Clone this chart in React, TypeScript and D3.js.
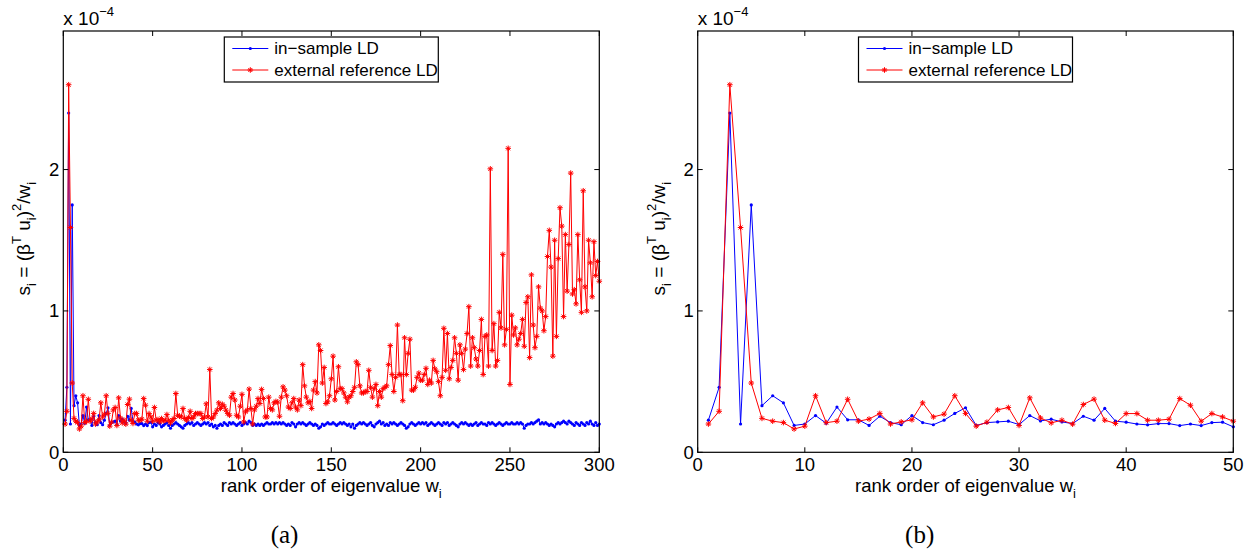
import React from "react";
import * as d3 from "d3";

// values in units of 1e-4, rank 1..300
const inSampleLD = [
  0.227, 0.46, 2.40, 0.20, 1.75, 0.33, 0.40, 0.35, 0.19, 0.20,
  0.26, 0.205, 0.32, 0.23, 0.23, 0.19, 0.255, 0.21, 0.195, 0.26,
  0.21, 0.195, 0.227, 0.275, 0.315, 0.19, 0.21, 0.215, 0.22, 0.196,
  0.26, 0.222, 0.234, 0.215, 0.203, 0.255, 0.227, 0.31, 0.22, 0.213,
  0.20, 0.194, 0.203, 0.203, 0.189, 0.20, 0.189, 0.21, 0.213, 0.18,
  0.20, 0.19, 0.21, 0.20, 0.18, 0.19, 0.20, 0.21, 0.19, 0.17,
  0.19, 0.20, 0.21, 0.20, 0.19, 0.18, 0.17, 0.19, 0.20, 0.21,
  0.20, 0.21, 0.19, 0.20, 0.21, 0.20, 0.19, 0.20, 0.21, 0.20,
  0.21, 0.19, 0.20, 0.18, 0.19, 0.17, 0.19, 0.20, 0.19, 0.21,
  0.20, 0.19, 0.21, 0.20, 0.21, 0.20, 0.19, 0.20, 0.21, 0.19,
  0.20, 0.21, 0.20, 0.22, 0.21, 0.19, 0.20, 0.19, 0.20, 0.19,
  0.20, 0.19, 0.20, 0.21, 0.20, 0.20, 0.21, 0.20, 0.21, 0.20,
  0.21, 0.20, 0.21, 0.20, 0.19, 0.20, 0.19, 0.21, 0.20, 0.18,
  0.20, 0.21, 0.20, 0.21, 0.20, 0.19, 0.20, 0.21, 0.20, 0.19,
  0.20, 0.19, 0.17, 0.18, 0.20, 0.19, 0.20, 0.21, 0.20, 0.20,
  0.21, 0.20, 0.19, 0.20, 0.21, 0.20, 0.21, 0.20, 0.19, 0.20,
  0.18, 0.20, 0.17, 0.19, 0.20, 0.21, 0.20, 0.21, 0.20, 0.19,
  0.20, 0.21, 0.19, 0.18, 0.20, 0.21, 0.22, 0.20, 0.21, 0.19,
  0.20, 0.19, 0.21, 0.20, 0.21, 0.20, 0.19, 0.20, 0.21, 0.20,
  0.19, 0.17, 0.18, 0.20, 0.21, 0.20, 0.19, 0.20, 0.21, 0.20,
  0.21, 0.20, 0.21, 0.19, 0.20, 0.21, 0.20, 0.19, 0.20, 0.21,
  0.20, 0.19, 0.21, 0.20, 0.21, 0.19, 0.20, 0.21, 0.20, 0.19,
  0.18, 0.20, 0.21, 0.20, 0.21, 0.20, 0.19, 0.20, 0.19, 0.20,
  0.21, 0.19, 0.20, 0.21, 0.20, 0.20, 0.19, 0.21, 0.20, 0.21,
  0.20, 0.19, 0.20, 0.21, 0.20, 0.19, 0.20, 0.21, 0.20, 0.20,
  0.21, 0.20, 0.20, 0.21, 0.20, 0.21, 0.20, 0.17, 0.19, 0.20,
  0.20, 0.21, 0.20, 0.21, 0.22, 0.23, 0.20, 0.21, 0.20, 0.21,
  0.20, 0.19, 0.20, 0.19, 0.18, 0.20, 0.21, 0.20, 0.21, 0.22,
  0.21, 0.20, 0.22, 0.21, 0.20, 0.19, 0.21, 0.20, 0.19, 0.21,
  0.20, 0.19, 0.21, 0.20, 0.22, 0.20, 0.19, 0.21, 0.19, 0.20,
];

const externalLD = [
  0.20, 0.29, 2.60, 1.59, 0.49, 0.24, 0.22, 0.21, 0.165, 0.185,
  0.40, 0.21, 0.22, 0.375, 0.22, 0.235, 0.275, 0.20, 0.215, 0.23,
  0.35, 0.25, 0.27, 0.40, 0.275, 0.185, 0.213, 0.30, 0.317, 0.19,
  0.385, 0.243, 0.208, 0.227, 0.199, 0.338, 0.376, 0.227, 0.204, 0.274,
  0.274, 0.227, 0.227, 0.234, 0.38, 0.333, 0.22, 0.274, 0.25, 0.22,
  0.317, 0.227, 0.232, 0.215, 0.239, 0.222, 0.227, 0.267, 0.227, 0.208,
  0.227, 0.239, 0.416, 0.262, 0.255, 0.25, 0.31, 0.239, 0.227, 0.246,
  0.29, 0.239, 0.25, 0.274, 0.274, 0.274, 0.274, 0.239, 0.25, 0.343,
  0.25, 0.586, 0.239, 0.25, 0.274, 0.298, 0.35, 0.31, 0.34, 0.326,
  0.298, 0.274, 0.262, 0.39, 0.416, 0.37, 0.262, 0.25, 0.326, 0.41,
  0.215, 0.286, 0.30, 0.447, 0.31, 0.20, 0.30, 0.326, 0.38, 0.345,
  0.445, 0.38, 0.25, 0.25, 0.39, 0.31, 0.30, 0.35, 0.36, 0.355,
  0.255, 0.39, 0.463, 0.44, 0.40, 0.32, 0.31, 0.35, 0.38, 0.32,
  0.30, 0.37, 0.33, 0.62, 0.47, 0.39, 0.35, 0.36, 0.31, 0.44,
  0.50, 0.42, 0.76, 0.72, 0.49, 0.60, 0.345, 0.357, 0.40, 0.52,
  0.68, 0.37, 0.43, 0.605, 0.45, 0.45, 0.42, 0.39, 0.357, 0.39,
  0.40, 0.43, 0.46, 0.64, 0.62, 0.47, 0.42, 0.42, 0.43, 0.43,
  0.58, 0.46, 0.39, 0.45, 0.48, 0.33, 0.43, 0.39, 0.45, 0.46,
  0.47, 0.62, 0.755, 0.55, 0.43, 0.53, 0.90, 0.55, 0.55, 0.365,
  0.81, 0.55, 0.70, 0.80, 0.44, 0.44, 0.46, 0.53, 0.56, 0.51,
  0.51, 0.55, 0.594, 0.48, 0.51, 0.49, 0.65, 0.59, 0.57, 0.50,
  0.40, 0.53, 0.877, 0.58, 0.84, 0.52, 0.60, 0.65, 0.81, 0.70,
  0.51, 0.76, 0.70, 0.585, 0.73, 0.84, 1.03, 0.61, 0.81, 0.74,
  0.66, 0.61, 0.72, 0.94, 0.55, 0.82, 0.83, 0.61, 2.005, 0.72,
  0.91, 0.61, 0.65, 0.99, 0.88, 1.40, 0.76, 0.87, 2.15, 0.48,
  0.97, 0.83, 0.88, 0.76, 0.80, 0.84, 0.94, 0.75, 1.06, 1.10,
  0.67, 1.255, 0.90, 0.74, 0.82, 1.17, 1.02, 1.0, 0.86, 0.96,
  1.385, 1.57, 1.31, 0.68, 1.50, 0.82, 1.37, 1.73, 1.60, 0.96,
  1.54, 1.14, 1.47, 1.975, 1.12, 1.15, 1.05, 1.54, 1.22, 0.99,
  1.85, 1.17, 1.0, 1.50, 1.34, 1.10, 1.49, 1.25, 1.35, 1.21,
];

const seriesNames = ["in\u2212sample LD", "external reference LD"];
const yTicks = [0, 1, 2];
const panels = [
  { tag: "(a)", n: 300, xTicks: [0, 50, 100, 150, 200, 250, 300], left: 63.3, right: 599.3, tagX: 284.5 },
  { tag: "(b)", n: 50, xTicks: [0, 10, 20, 30, 40, 50], left: 697.7, right: 1233.3, tagX: 919.7 },
];

const TOP = 31;
const BOTTOM = 452.3;
const FONT = "'Liberation Sans', Arial, Helvetica, sans-serif";
const BLUE = "#0000ff";
const RED = "#ff0000";

const Star = ({ x, y }: { x: number; y: number }) => {
  const r = 2.8;
  const d = 2.0;
  return (
    <path
      d={`M${x - r},${y}H${x + r}M${x},${y - r}V${y + r}M${x - d},${y - d}L${x + d},${y + d}M${x - d},${y + d}L${x + d},${y - d}`}
      stroke={RED}
      strokeWidth={1}
      fill="none"
    />
  );
};

const Panel = ({ p }: { p: (typeof panels)[number] }) => {
  const x = d3.scaleLinear().domain([0, p.n]).range([p.left, p.right]);
  const y = d3.scaleLinear().domain([0, 2.98]).range([BOTTOM, TOP]);
  const blue = inSampleLD.slice(0, p.n);
  const red = externalLD.slice(0, p.n);
  const line = d3
    .line<number>()
    .x((_, i) => x(i + 1))
    .y((d) => y(d));
  const cx = (p.left + p.right) / 2;
  const cy = (TOP + BOTTOM) / 2;
  const lgW = 214;
  const lgL = cx - lgW / 2;
  const lgT = 37;

  return (
    <g>
      {/* series */}
      <path d={line(blue) || ""} fill="none" stroke={BLUE} strokeWidth={1} />
      {blue.map((d, i) => (
        <circle key={"b" + i} cx={x(i + 1)} cy={y(d)} r={1.6} fill={BLUE} />
      ))}
      <path d={line(red) || ""} fill="none" stroke={RED} strokeWidth={1} />
      {red.map((d, i) => (
        <Star key={"r" + i} x={x(i + 1)} y={y(d)} />
      ))}

      {/* box + ticks */}
      <rect x={p.left} y={TOP} width={p.right - p.left} height={BOTTOM - TOP} fill="none" stroke="#000" strokeWidth={1.2} />
      {p.xTicks.map((t) => (
        <g key={"xt" + t}>
          <line x1={x(t)} x2={x(t)} y1={BOTTOM} y2={BOTTOM - 5} stroke="#000" />
          <line x1={x(t)} x2={x(t)} y1={TOP} y2={TOP + 5} stroke="#000" />
          <text x={x(t)} y={471} textAnchor="middle" fontSize={18.5} fontFamily={FONT}>
            {t}
          </text>
        </g>
      ))}
      {yTicks.map((t) => (
        <g key={"yt" + t}>
          <line x1={p.left} x2={p.left + 5} y1={y(t)} y2={y(t)} stroke="#000" />
          <line x1={p.right} x2={p.right - 5} y1={y(t)} y2={y(t)} stroke="#000" />
          <text x={p.left - 4} y={y(t)} dy="0.35em" textAnchor="end" fontSize={18.5} fontFamily={FONT}>
            {t}
          </text>
        </g>
      ))}

      {/* exponent */}
      <text x={p.left} y={25} fontSize={19} fontFamily={FONT}>
        x 10
        <tspan fontSize={13} dy={-9}>
          {"\u22124"}
        </tspan>
      </text>

      {/* axis labels */}
      <text x={cx} y={492} textAnchor="middle" fontSize={18.5} fontFamily={FONT}>
        rank order of eigenvalue w
        <tspan fontSize={13} dy={6}>
          i
        </tspan>
      </text>
      <text
        transform={`translate(${p.left - 33},${cy - 3}) rotate(-90)`}
        textAnchor="middle"
        fontSize={19}
        fontFamily={FONT}
      >
        s<tspan fontSize={13} dy={6}>i</tspan>
        <tspan dy={-6}> = (β</tspan>
        <tspan fontSize={13} dy={-9}>T</tspan>
        <tspan dy={9}> u</tspan>
        <tspan fontSize={13} dy={6}>i</tspan>
        <tspan dy={-6}>)</tspan>
        <tspan fontSize={13} dy={-9}>2</tspan>
        <tspan dy={9}>/w</tspan>
        <tspan fontSize={13} dy={6}>i</tspan>
      </text>

      {/* legend */}
      <rect x={lgL} y={lgT} width={lgW} height={45} fill="#fff" stroke="#000" strokeWidth={1.2} />
      <line x1={lgL + 8} x2={lgL + 44} y1={lgT + 11.5} y2={lgT + 11.5} stroke={BLUE} />
      <circle cx={lgL + 26} cy={lgT + 11.5} r={1.6} fill={BLUE} />
      <text x={lgL + 50} y={lgT + 11.5} dy="0.35em" fontSize={17} fontFamily={FONT}>
        {seriesNames[0]}
      </text>
      <line x1={lgL + 8} x2={lgL + 44} y1={lgT + 33} y2={lgT + 33} stroke={RED} />
      <Star x={lgL + 26} y={lgT + 33} />
      <text x={lgL + 50} y={lgT + 33} dy="0.35em" fontSize={17} fontFamily={FONT}>
        {seriesNames[1]}
      </text>

      {/* panel tag */}
      <text x={p.tagX} y={543} textAnchor="middle" fontSize={25} fontFamily="'Liberation Serif', 'DejaVu Serif', serif">
        {p.tag}
      </text>
    </g>
  );
};

export default function App() {
  return (
    <svg width={1256} height={558} style={{ position: "absolute", left: 0, top: 0, background: "#fff" }}>
      <rect width={1256} height={558} fill="#fff" />
      {panels.map((p) => (
        <Panel key={p.tag} p={p} />
      ))}
    </svg>
  );
}
